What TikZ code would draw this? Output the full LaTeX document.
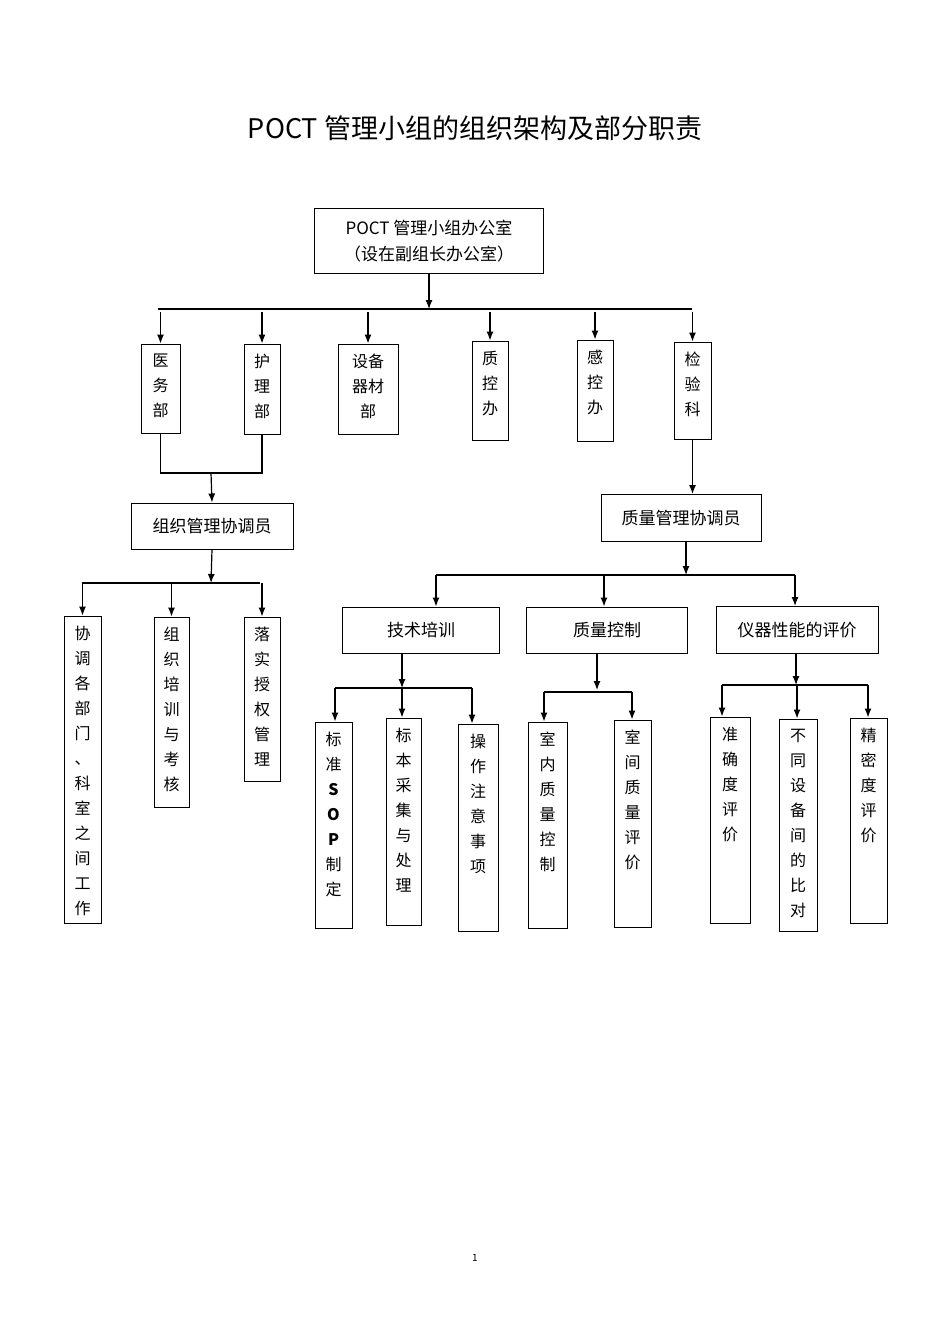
\documentclass[tikz,border=0pt]{standalone}
\usepackage{fontspec}
\setmainfont{Noto Sans CJK SC}
\usetikzlibrary{arrows.meta}
\tikzset{
  bx/.style={draw,line width=1pt,inner sep=0pt},
  lab/.style={font=\fontsize{16}{25}\selectfont,align=center,inner sep=0pt},
  arr/.style={line width=1.2pt,-{Latex[length=9pt,width=7pt]}},
  ln/.style={line width=1.2pt}
}
% \mybox{name}{x1}{y1}{x2}{y2}
\newcommand\mybox[5]{\node[bx,minimum width={#4-#2},minimum height={#5-#3}] (#1) at ({(#2+#4)/2},{(#3+#5)/2}) {};}
\newcommand\vlab[2]{\node[lab,anchor=north] at ([yshift=-10]#1.north) {#2};}
\begin{document}
\begin{tikzpicture}[x=1pt,y=-1pt]
\useasboundingbox (0,0) rectangle (950,1344);
\node[font=\fontsize{27}{30}\selectfont] (title) at (475,128) {POCT 管理小组的组织架构及部分职责};
\node[bx,minimum width=229,minimum height=65,align=center,font=\fontsize{17}{26}\selectfont] (top) at (429,241) {POCT 管理小组办公室\\（设在副组长办公室）};
\coordinate (h0) at (429,309);
\draw[arr] (top.south) -- (h0);
\draw[ln] (158,309) -- (692,309);
% row 1
\mybox{yw}{141}{344}{180}{433}
\mybox{hl}{244}{344}{280}{434}
\mybox{sb}{338}{344}{398}{434}
\mybox{zk}{472}{341}{508}{440}
\mybox{gk}{577}{340}{613}{441}
\mybox{jy}{674}{342}{711}{439}
\vlab{yw}{医\\务\\部}
\vlab{hl}{护\\理\\部}
\vlab{sb}{设备\\器材\\部}
\vlab{zk}{质\\控\\办}
\vlab{gk}{感\\控\\办}
\vlab{jy}{检\\验\\科}
\foreach \n in {yw,hl,sb,zk,gk,jy}{\draw[arr] (\n.north |- 0,312) -- (\n.north);}
% left branch
\node[bx,minimum width=162,minimum height=46,font=\fontsize{17}{20}\selectfont] (zz) at (212,526) {组织管理协调员};
\coordinate (j1) at (211,473);
\draw[ln] (yw.south) -- (yw.south |- j1) -- (hl.south |- j1) -- (hl.south);
\draw[arr] (j1) -- (zz.north);
\coordinate (j2) at (211,583);
\draw[arr] (zz.south) -- (j2);
\draw[ln] (82,583) -- (260,583);
\mybox{xt}{64}{616}{101}{923}
\mybox{zp}{154}{617}{189}{807}
\mybox{ls}{244}{617}{280}{781}
\vlab{xt}{协\\调\\各\\部\\门\\、\\科\\室\\之\\间\\工\\作}
\vlab{zp}{组\\织\\培\\训\\与\\考\\核}
\vlab{ls}{落\\实\\授\\权\\管\\理}
\foreach \n in {xt,zp,ls}{\draw[arr] (\n.north |- 0,583) -- (\n.north);}
% right branch
\node[bx,minimum width=160,minimum height=47,font=\fontsize{17}{20}\selectfont] (zl) at (681,518) {质量管理协调员};
\draw[arr] (jy.south) -- (jy.south |- zl.north);
\coordinate (j3) at (686,575);
\draw[arr] (686,541) -- (j3);
\draw[ln] (436,575) -- (795,575);
\node[bx,minimum width=157,minimum height=46,font=\fontsize{17}{20}\selectfont] (js) at (421,630) {技术培训};
\node[bx,minimum width=161,minimum height=46,font=\fontsize{17}{20}\selectfont] (zc) at (607,630) {质量控制};
\node[bx,minimum width=162,minimum height=47,font=\fontsize{17}{20}\selectfont] (yq) at (797,630) {仪器性能的评价};
\draw[arr] (436,575) -- (436,0 |- js.north);
\draw[arr] (604,575) -- (604,0 |- zc.north);
\draw[arr] (795,575) -- (795,0 |- yq.north);
% level 3
\coordinate (k1) at (402,688);
\draw[arr] (402,653) -- (k1);
\draw[ln] (335,688) -- (472,688);
\mybox{bz}{315}{722}{352}{928}
\mybox{bb}{386}{718}{421}{925}
\mybox{cz}{458}{724}{498}{931}
\vlab{bz}{标\\准\\\textbf{S}\\\textbf{O}\\\textbf{P}\\制\\定}
\vlab{bb}{标\\本\\采\\集\\与\\处\\理}
\vlab{cz}{操\\作\\注\\意\\事\\项}
\foreach \n/\x in {bz/335,bb/402,cz/472}{\draw[arr] (\x,688) -- (\x,0 |- \n.north);}
\coordinate (k2) at (597,690);
\draw[arr] (597,653) -- (k2);
\draw[ln] (544,692) -- (632,692);
\mybox{sn}{528}{722}{567}{928}
\mybox{sj}{614}{720}{651}{927}
\vlab{sn}{室\\内\\质\\量\\控\\制}
\vlab{sj}{室\\间\\质\\量\\评\\价}
\foreach \n/\x in {sn/544,sj/632}{\draw[arr] (\x,692) -- (\x,0 |- \n.north);}
\coordinate (k3) at (796,685);
\draw[arr] (796,654) -- (k3);
\draw[ln] (722,685) -- (868,685);
\mybox{zq}{710}{717}{750}{923}
\mybox{bt}{779}{719}{817}{931}
\mybox{jm}{850}{718}{887}{923}
\vlab{zq}{准\\确\\度\\评\\价}
\vlab{bt}{不\\同\\设\\备\\间\\的\\比\\对}
\vlab{jm}{精\\密\\度\\评\\价}
\foreach \n/\x in {zq/722,bt/797,jm/868}{\draw[arr] (\x,685) -- (\x,0 |- \n.north);}
\node[font=\fontsize{10}{12}\selectfont] (pg) at (475,1258) {1};
\end{tikzpicture}
\end{document}
